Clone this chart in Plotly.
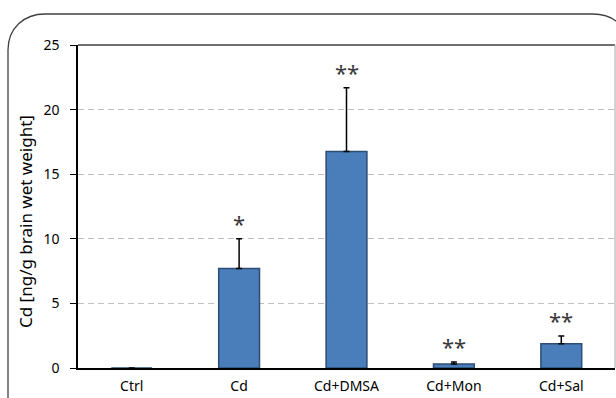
import plotly.graph_objects as go

categories = ["Ctrl", "Cd", "Cd+DMSA", "Cd+Mon", "Cd+Sal"]
values = [0.0, 7.7, 16.75, 0.3, 1.87]
errors = [0.0, 2.3, 4.95, 0.17, 0.6]
stars = ["", "*", "**", "**", "**"]
y_ticks = [0, 5, 10, 15, 20, 25]
y_title = "Cd [ng/g brain wet weight]"

W, H = 616, 398
L, R, T, B = 78, 1, 45, 30
pw, ph = W - L - R, H - T - B

def px(x):
    return (x - L) / pw

def py(y):
    return (H - B - y) / ph

FONT = "Noto Sans"

fig = go.Figure()
fig.add_trace(go.Bar(
    x=categories, y=values, width=0.38,
    marker=dict(color="#4a7ebb", line=dict(color="#2c4d75", width=1.5)),
    error_y=dict(type="data", array=errors, arrayminus=[0]*len(errors),
                 symmetric=False, color="black", thickness=1.5, width=3),
    showlegend=False, hoverinfo="skip",
))

for c, v, e, s in zip(categories, values, errors, stars):
    if s:
        fig.add_annotation(x=c, y=v + e, text=s, showarrow=False, yanchor="bottom",
                           yshift=-1, font=dict(family=FONT, size=22, color="#3a3a3a"))

fig.add_annotation(xref="paper", yref="paper", x=px(25), y=py(222), text=y_title,
                   textangle=-90, showarrow=False, xanchor="center", yanchor="middle",
                   font=dict(family=FONT, size=17, color="black"))

# top and right borders of the plot area
fig.add_shape(type="line", xref="paper", yref="paper", x0=0, x1=1, y0=1, y1=1,
              line=dict(color="#404040", width=1.5))
fig.add_shape(type="line", xref="paper", yref="paper", x0=1, x1=1, y0=0, y1=1,
              line=dict(color="#a6a6a6", width=1))

# rounded outer frame
path = (f"M {px(8)},{py(430)} L {px(8)},{py(50)} "
        f"C {px(8)},{py(28)} {px(24)},{py(14)} {px(45)},{py(14)} "
        f"L {px(593)},{py(14)} "
        f"C {px(614)},{py(14)} {px(630)},{py(28)} {px(630)},{py(50)} "
        f"L {px(630)},{py(430)}")
fig.add_shape(type="path", xref="paper", yref="paper", path=path,
              line=dict(color="#404040", width=1.3))

fig.update_layout(
    width=W, height=H,
    margin=dict(l=L, r=R, t=T, b=B),
    paper_bgcolor="white", plot_bgcolor="white",
    font=dict(family=FONT, size=13, color="black"),
    hovermode=False,
    xaxis=dict(type="category", range=[-0.5, 4.5], showline=True, linecolor="black",
               linewidth=1.5, ticks="", showgrid=False, tickfont=dict(size=14),
               ticklabelstandoff=4),
    yaxis=dict(range=[0, 25], tickvals=y_ticks, showline=True, linecolor="black",
               linewidth=1.5, ticks="outside", ticklen=6, tickcolor="black",
               showgrid=True, gridcolor="#bfbfbf", griddash="6px,4px", gridwidth=1,
               zeroline=False, tickfont=dict(size=14), ticklabelstandoff=8),
)

fig.write_html("out.html", config={"displayModeBar": False},
               post_script="document.body.style.margin='0';")
